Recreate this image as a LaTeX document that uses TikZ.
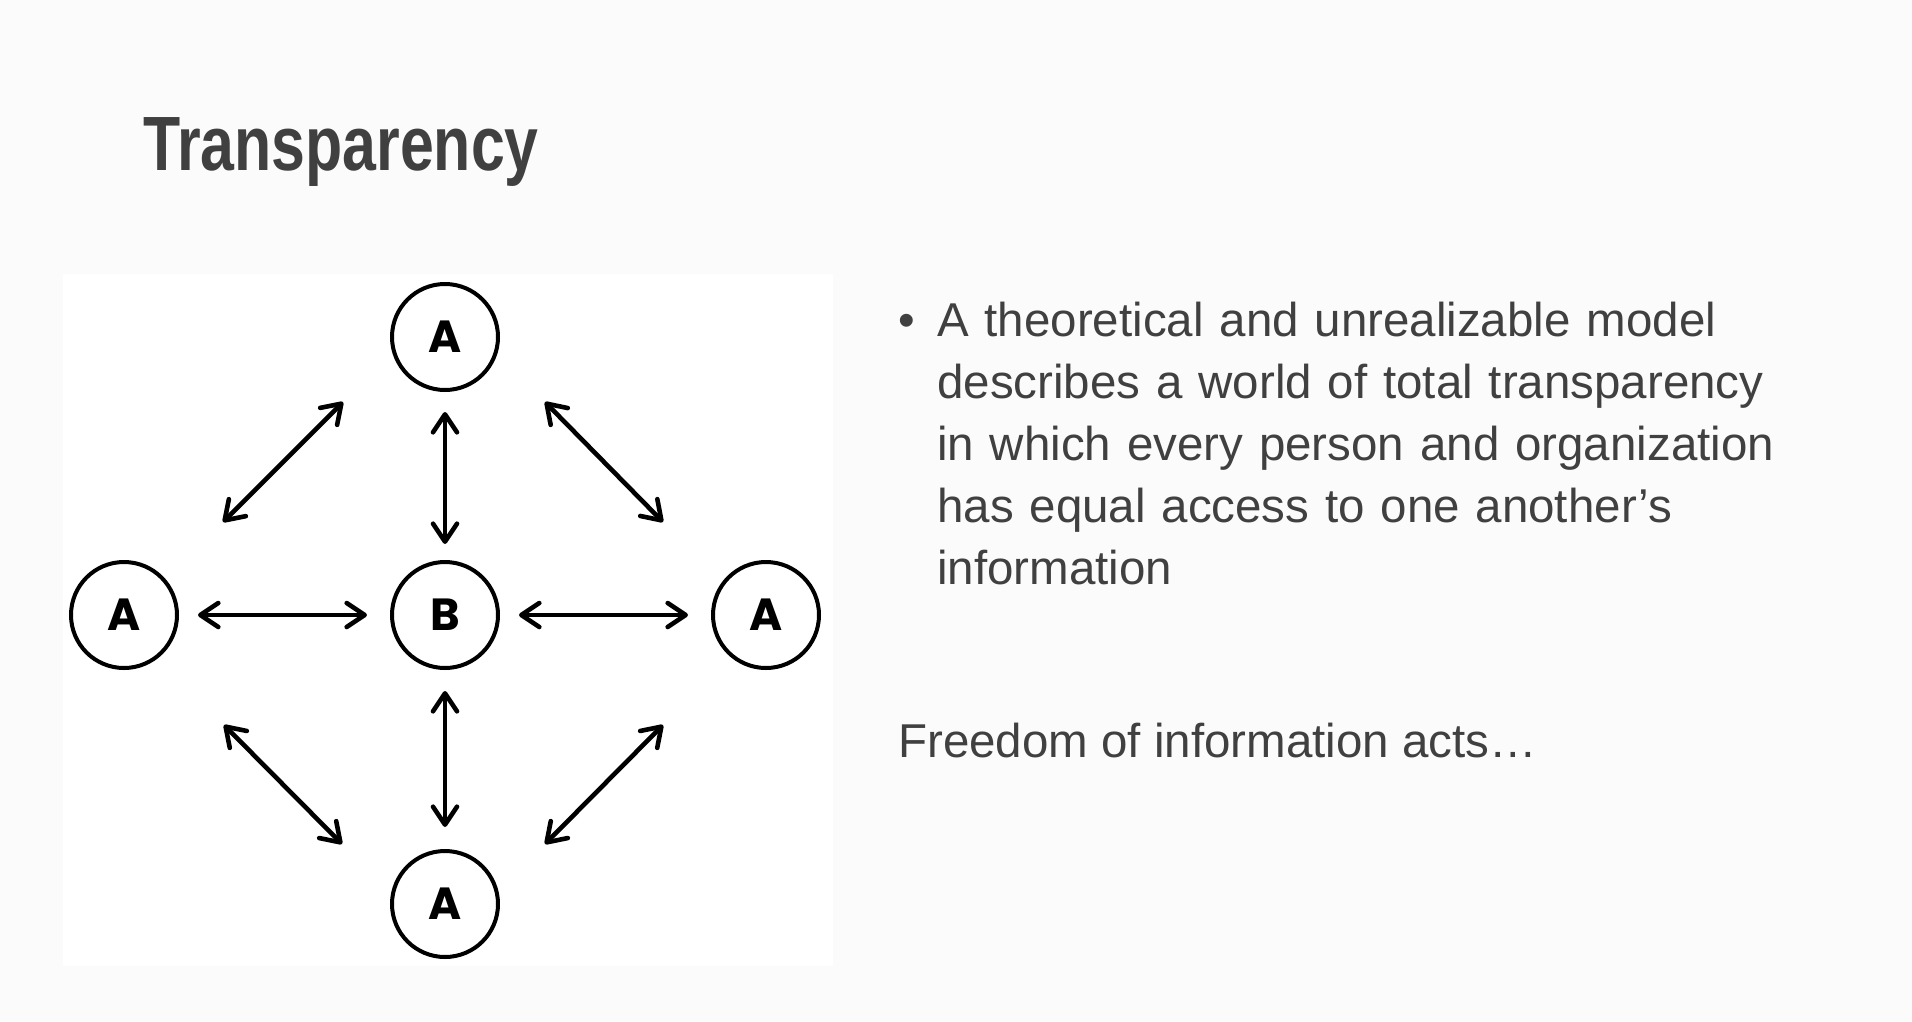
\documentclass[tikz,border=0pt]{standalone}
\usepackage{fontspec}
\setmainfont{Liberation Sans}
\newfontfamily\titlefont[FakeStretch=0.79]{Liberation Sans}
\newfontfamily\markfont{Poppins}
\usetikzlibrary{arrows.meta}
\definecolor{slidebg}{HTML}{FBFBFB}
\definecolor{ink}{HTML}{404040}

\begin{document}
\begin{tikzpicture}[x=1pt,y=-1pt,
  agent/.style={circle,draw=black,line width=4pt,minimum size=106pt,inner sep=0pt,
    font=\markfont\bfseries\fontsize{45}{45}\selectfont},
  barb/.tip={Straight Barb[length=18pt,width=24pt,line cap=round,line join=round]},
  link/.style={line width=4.6pt,barb-barb},
  bodytext/.style={text=ink,font=\fontsize{47.5}{62}\selectfont,inner sep=0pt,anchor=base west}]
% slide background and white figure panel
\fill[slidebg] (0,0) rectangle (1912,1021);
\useasboundingbox (0,0) rectangle (1912,1021);
\fill[white] (63,274) rectangle (833,966);

% title
\node[text=ink,font=\titlefont\bfseries\fontsize{77}{77}\selectfont,anchor=base west,inner sep=0pt]
  (title) at (143,170) {Transparency};

% the five parties
\node[agent] (top)    at (445,337) {A};
\node[agent] (left)   at (124,615) {A};
\node[agent] (mid)    at (445,615) {B};
\node[agent] (right)  at (766,615) {A};
\node[agent] (bottom) at (445,904) {A};

% links to the centre
\draw[link,shorten <=19pt,shorten >=23pt] (left) -- (mid);
\draw[link,shorten <=19pt,shorten >=23pt] (mid) -- (right);
\draw[link,shorten <=20pt,shorten >=16pt] (top) -- (mid);
\draw[link,shorten <=21pt,shorten >=22pt] (mid) -- (bottom);

% diagonal links between the outer parties
\coordinate (nwA) at (223,522); \coordinate (nwB) at (343,402);
\coordinate (neA) at (545,402); \coordinate (neB) at (663,522);
\coordinate (swA) at (224,725); \coordinate (swB) at (342,844);
\coordinate (seA) at (545,844); \coordinate (seB) at (663,725);
\draw[link] (nwA) -- (nwB);
\draw[link] (neA) -- (neB);
\draw[link] (swA) -- (swB);
\draw[link] (seA) -- (seB);

% text column
\node[bodytext] (dot) at (898,336) {•};
\node[bodytext,text width=860pt,align=left] (point) at (937,336)
  {A theoretical and unrealizable model\\
   describes a world of total transparency\\
   in which every person and organization\\
   has equal access to one another’s\\
   information};
\node[bodytext] (foia) at (898,757) {Freedom of information acts…};
\end{tikzpicture}
\end{document}
